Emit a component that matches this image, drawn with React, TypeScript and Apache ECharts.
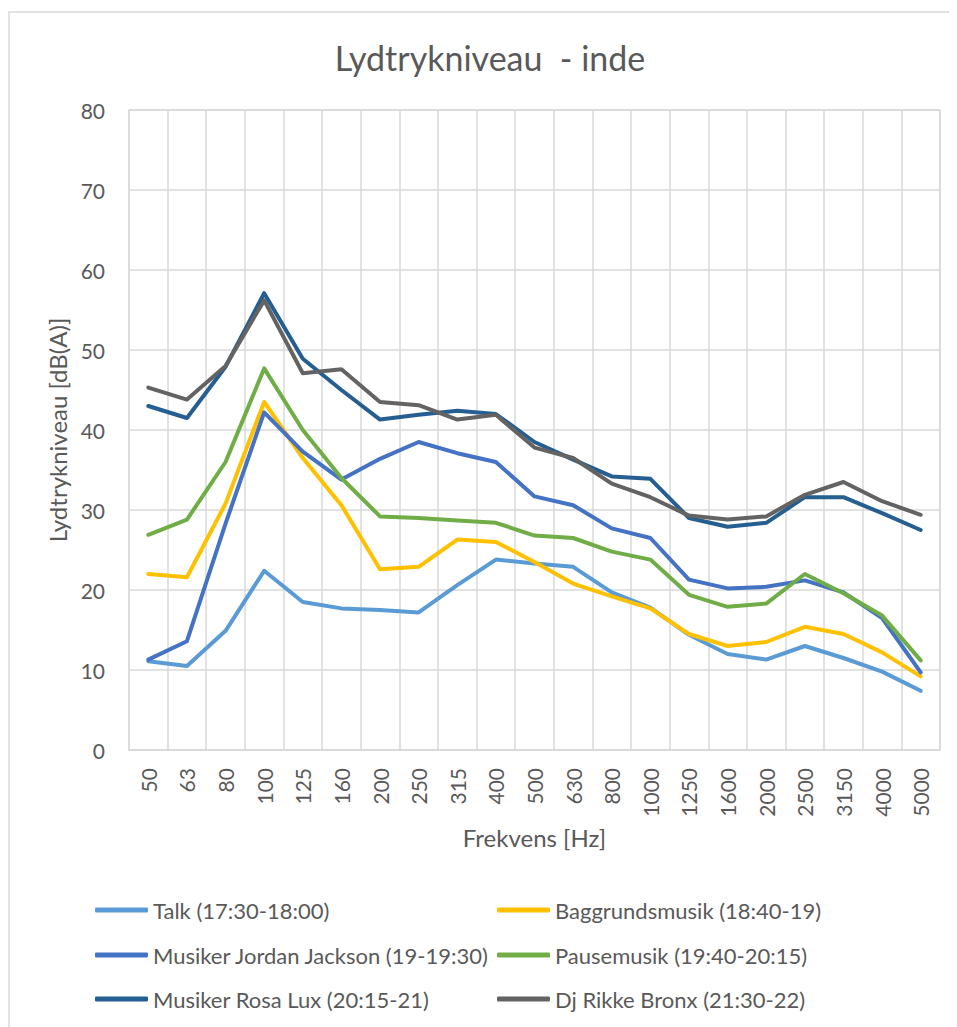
import React, { useEffect, useRef } from "react";
import * as echarts from "echarts";

const categories = ["50", "63", "80", "100", "125", "160", "200", "250", "315", "400", "500", "630", "800", "1000", "1250", "1600", "2000", "2500", "3150", "4000", "5000"];

const talk = [11.1, 10.5, 14.9, 22.4, 18.5, 17.7, 17.5, 17.2, 20.6, 23.8, 23.3, 22.9, 19.7, 17.8, 14.4, 12.0, 11.3, 13.0, 11.5, 9.8, 7.4];
const baggrund = [22.0, 21.6, 30.8, 43.5, 36.5, 30.6, 22.6, 22.9, 26.3, 26.0, 23.5, 20.8, 19.2, 17.7, 14.5, 13.0, 13.5, 15.4, 14.5, 12.2, 9.2];
const jordan = [11.3, 13.6, 28.3, 42.2, 37.3, 33.8, 36.4, 38.5, 37.1, 36.0, 31.7, 30.6, 27.7, 26.5, 21.3, 20.2, 20.4, 21.2, 19.7, 16.5, 9.7];
const pause = [26.9, 28.8, 36.0, 47.7, 40.0, 34.0, 29.2, 29.0, 28.7, 28.4, 26.8, 26.5, 24.8, 23.8, 19.4, 17.9, 18.3, 22.0, 19.6, 16.8, 11.2];
const rosa = [43.0, 41.5, 47.9, 57.1, 48.9, 45.0, 41.3, 41.9, 42.4, 42.0, 38.5, 36.3, 34.2, 33.9, 29.0, 27.9, 28.4, 31.6, 31.6, 29.6, 27.5];
const rikke = [45.3, 43.8, 48.0, 56.2, 47.1, 47.6, 43.5, 43.1, 41.3, 41.9, 37.8, 36.5, 33.3, 31.6, 29.3, 28.8, 29.2, 31.9, 33.5, 31.1, 29.4];

const seriesNames = [
  "Talk (17:30-18:00)",
  "Baggrundsmusik (18:40-19)",
  "Musiker Jordan Jackson (19-19:30)",
  "Pausemusik (19:40-20:15)",
  "Musiker Rosa Lux (20:15-21)",
  "Dj Rikke Bronx (21:30-22)",
];
const seriesData = [talk, baggrund, jordan, pause, rosa, rikke];
const colors = ["#5B9BD5", "#FFC000", "#4472C4", "#70AD47", "#255E91", "#636363"];

const FONT = "Lato, 'Noto Sans', sans-serif";
const TXT = "#595959";

export default function App() {
  const ref = useRef<HTMLDivElement>(null);
  useEffect(() => {
    if (!ref.current) return;
    const chart = echarts.init(ref.current, undefined, { renderer: "svg" });
    const legendPos = [
      [87, 889],
      [489, 889],
      [87, 934],
      [489, 934],
      [87, 978],
      [489, 978],
    ];
    chart.setOption({
      animation: false,
      backgroundColor: "#ffffff",
      color: colors,
      textStyle: { fontFamily: FONT },
      title: {
        text: "Lydtrykniveau  - inde",
        left: 477,
        textAlign: "center",
        top: 27,
        textStyle: { fontFamily: FONT, fontSize: 34, fontWeight: "normal", color: TXT },
      },
      graphic: [
        {
          type: "rect",
          shape: { x: 1, y: 4, width: 1000, height: 1100 },
          style: { fill: "none", stroke: "#d9d9d9", lineWidth: 1.5 },
          silent: true,
        },
      ],
      legend: seriesNames.map((n, i) => ({
        data: [n],
        left: legendPos[i][0],
        top: legendPos[i][1],
        padding: 0,
        icon: "roundRect",
        itemWidth: 53,
        itemHeight: 5,
        textStyle: { fontFamily: FONT, fontSize: 22, color: TXT, lineHeight: 26 },
      })),
      grid: {
        left: 121,
        right: 17,
        top: 102,
        bottom: 277,
        show: true,
        borderColor: "#d9d9d9",
        borderWidth: 1.5,
      },
      xAxis: {
        type: "category",
        data: categories,
        boundaryGap: true,
        name: "Frekvens [Hz]",
        nameLocation: "middle",
        nameGap: 75,
        nameTextStyle: { fontFamily: FONT, fontSize: 24, color: TXT },
        axisLine: { show: true, lineStyle: { color: "#d9d9d9", width: 1.5 } },
        axisTick: { show: false },
        axisLabel: { rotate: 90, interval: 0, margin: 18, fontFamily: FONT, fontSize: 21, color: TXT },
        splitLine: { show: true, interval: 0, lineStyle: { color: "#d9d9d9", width: 1.5 } },
      },
      yAxis: {
        type: "value",
        min: 0,
        max: 80,
        interval: 10,
        name: "Lydtrykniveau [dB(A)]",
        nameLocation: "middle",
        nameGap: 56,
        nameTextStyle: { fontFamily: FONT, fontSize: 24, color: TXT },
        axisLine: { show: false },
        axisTick: { show: false },
        axisLabel: { margin: 24, fontFamily: FONT, fontSize: 21, color: TXT },
        splitLine: { show: true, lineStyle: { color: "#d9d9d9", width: 1.5 } },
      },
      series: seriesNames.map((n, i) => ({
        name: n,
        type: "line",
        data: seriesData[i],
        symbol: "none",
        lineStyle: { width: 4, color: colors[i], cap: "round", join: "round" },
        itemStyle: { color: colors[i] },
      })),
    });
    return () => chart.dispose();
  }, []);
  return <div ref={ref} style={{ width: 949, height: 1019 }} />;
}
